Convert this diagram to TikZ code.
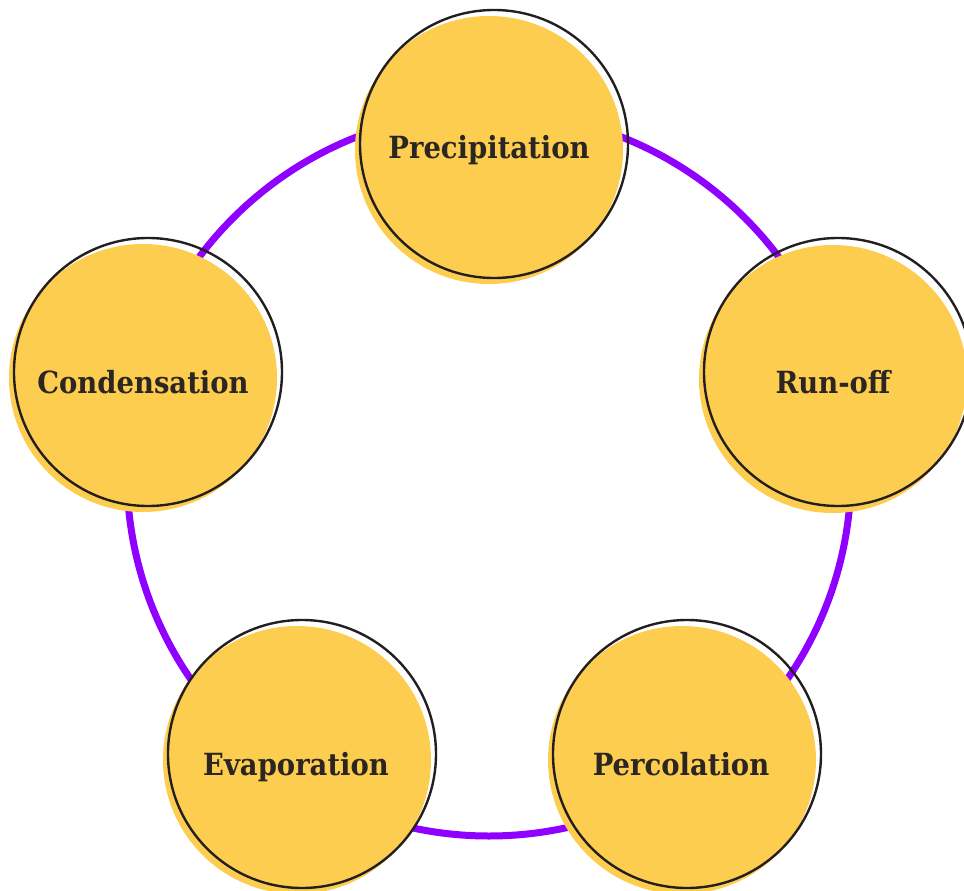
\documentclass[tikz,border=0pt]{standalone}
\usepackage{fontspec}
\newfontfamily\labelfont[FakeStretch=0.9]{DejaVu Serif}
\definecolor{sun}{HTML}{FDCD4F}
\definecolor{violet}{HTML}{8F00FF}
\definecolor{ink}{HTML}{231F20}
\definecolor{txt}{HTML}{2B2622}
\tikzset{
  disc/.style={circle, fill=sun, minimum size=268pt, inner sep=0pt},
  rim/.style={circle, draw=ink, line width=2.4pt, minimum size=268pt, inner sep=0pt},
  word/.style={anchor=base, text=txt, font=\labelfont\bfseries\fontsize{30.5}{32}\selectfont, inner sep=0pt},
  ring/.style={draw=violet, line width=7pt}
}
\begin{document}
\begin{tikzpicture}[x=1pt,y=-1pt]
\useasboundingbox (0,0) rectangle (964,891);
\clip (0,0) rectangle (964,891);
\coordinate (c) at (489,474);
\draw[ring] (c) circle (362pt);
% Precipitation
\node[disc] (precF) at (489,150) {};
\node[rim] (prec) at (494,144) {};
\node[word] (precT) at (489,158) {Precipitation};
% Run-off
\node[disc] (runF) at (833,379) {};
\node[rim] (run) at (838,372) {};
\node[word] (runT) at (833,393) {Run-off};
% Condensation
\node[disc] (condF) at (143,378) {};
\node[rim] (cond) at (148,372) {};
\node[word] (condT) at (143,393) {Condensation};
% Evaporation
\node[disc] (evapF) at (297,760) {};
\node[rim] (evap) at (302,754) {};
\node[word] (evapT) at (296,775) {Evaporation};
% Percolation
\node[disc] (percF) at (682,760) {};
\node[rim] (perc) at (687,754) {};
\node[word] (percT) at (681,775) {Percolation};
\end{tikzpicture}
\end{document}
